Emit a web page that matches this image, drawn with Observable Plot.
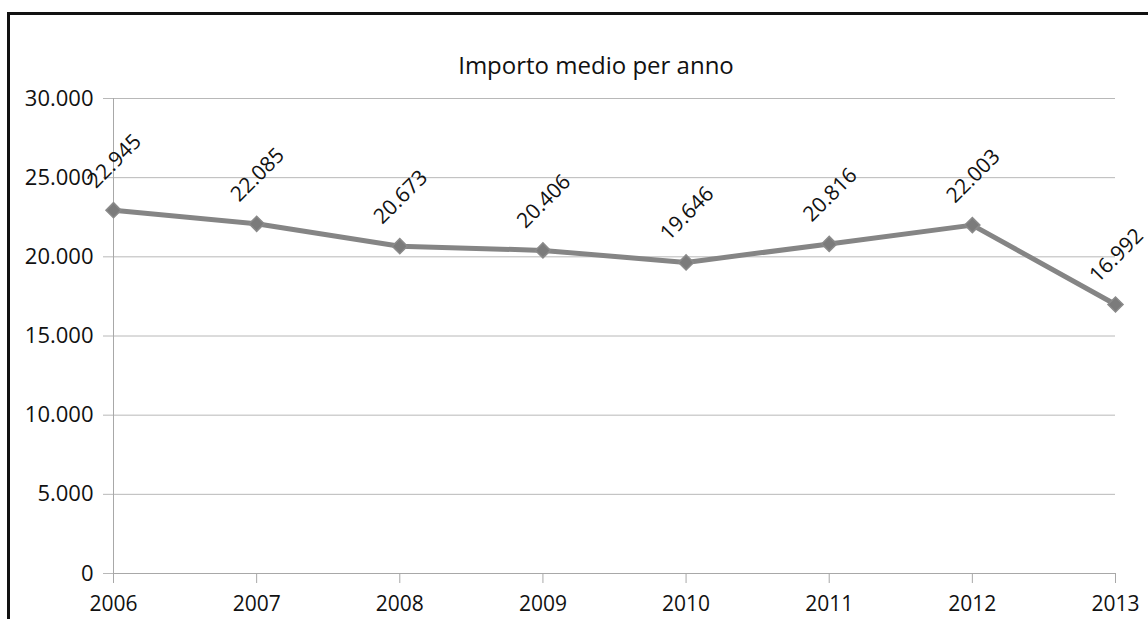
<!DOCTYPE html>
<html><head><meta charset="utf-8">
<script src="https://cdn.jsdelivr.net/npm/d3@7"></script>
<script src="https://cdn.jsdelivr.net/npm/@observablehq/plot@0.6"></script>
<style>
html,body{margin:0;padding:0;background:#fff;overflow:hidden;}
#wrap{position:relative;width:1148px;height:619px;font-family:"Open Sans",sans-serif;overflow:hidden;}
#frame{position:absolute;left:7px;top:12px;width:1200px;height:700px;border-left:3px solid #111;border-top:3px solid #111;}
#title{position:absolute;left:0;top:49px;width:1192px;text-align:center;font-size:24px;line-height:32px;color:#111;}
#chart{position:absolute;left:0;top:0;}
</style></head>
<body><div id="wrap"><div id="frame"></div><div id="title"></div><div id="chart"></div></div>
<script>
const title = "Importo medio per anno";
const years = [2006, 2007, 2008, 2009, 2010, 2011, 2012, 2013];
const values = [22945, 22085, 20673, 20406, 19646, 20816, 22003, 16992];
const yTicks = [0, 5000, 10000, 15000, 20000, 25000, 30000];

const it = d3.formatLocale({decimal: ",", thousands: ".", grouping: [3], currency: ["€", ""]});
const fmt = it.format(",");
const data = years.map((year, i) => ({year, value: values[i]}));

document.getElementById("title").textContent = title;

const chart = Plot.plot({
  width: 1148, height: 619,
  marginLeft: 113, marginRight: 33, marginTop: 98, marginBottom: 46,
  style: {fontFamily: "'Open Sans', sans-serif", fontSize: "21px", color: "#111", background: "transparent"},
  x: {type: "linear", domain: [2006, 2013]},
  y: {domain: [0, 30000]},
  marks: [
    Plot.gridY(yTicks, {stroke: "#b8b8b8", strokeOpacity: 1}),
    Plot.axisY(yTicks, {tickSize: 10, tickPadding: 10, tickFormat: fmt, stroke: "#b8b8b8", fill: "#111", fontSize: 22, label: null}),
    Plot.ruleX([2006], {y1: 0, y2: 30000, stroke: "#a8a8a8"}),
    Plot.ruleY([0], {stroke: "#a8a8a8"}),
    Plot.axisX(years, {tickSize: 10, tickPadding: 13, tickFormat: d => String(d), stroke: "#a8a8a8", fill: "#111", label: null}),
    Plot.line(data, {x: "year", y: "value", stroke: "#858585", strokeWidth: 5}),
    Plot.dot(data, {x: "year", y: "value", symbol: "square", rotate: 45, r: 6, fill: "#7b7b7b", stroke: "#8a8a8a"}),
    Plot.text(data, {x: "year", y: "value", text: d => fmt(d.value), rotate: -45, dx: 1, dy: -49, fontSize: 21, fill: "#111"})
  ]
});
document.getElementById("chart").appendChild(chart);
</script>
</body></html>
